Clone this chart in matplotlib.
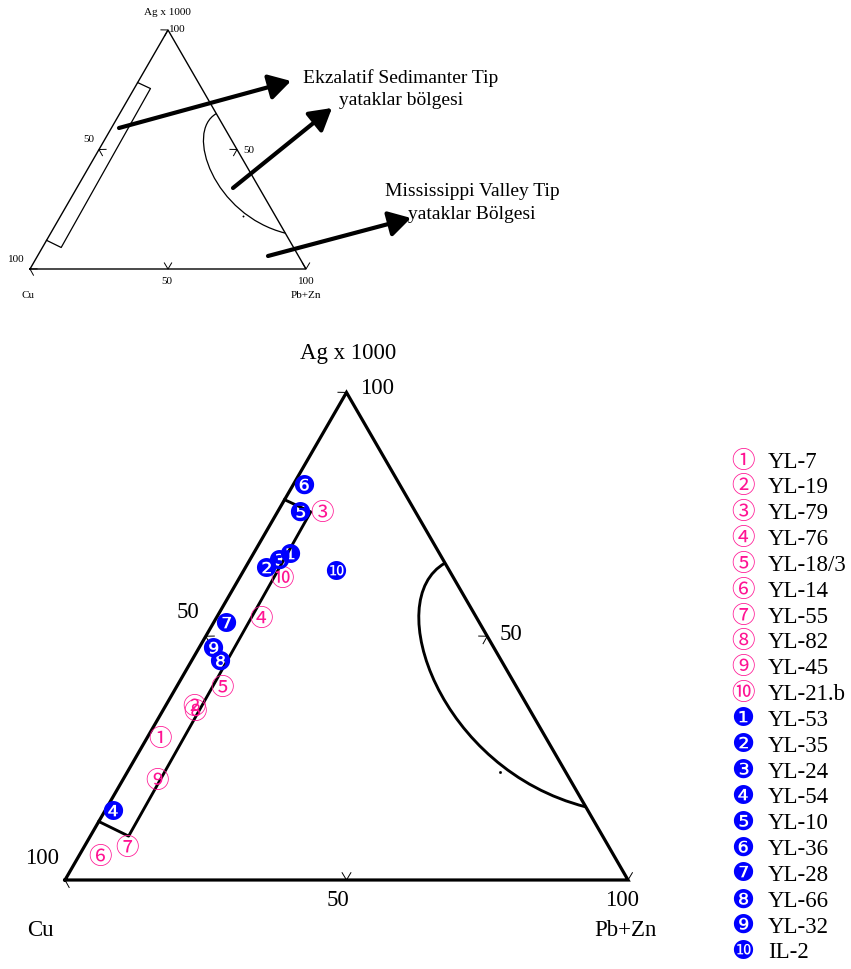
import numpy as np
import matplotlib
matplotlib.use('Agg')
import matplotlib.pyplot as plt
from matplotlib.path import Path
from matplotlib.patches import PathPatch

SQ3 = np.sqrt(3) / 2
SERIF = 'Liberation Serif'
PINK = '#ff1493'
BLUE = '#0000ff'

# sample compositions in % (Cu = 100 - Ag - PbZn)
pink_labels = ['YL-7', 'YL-19', 'YL-79', 'YL-76', 'YL-18/3', 'YL-14', 'YL-55', 'YL-82', 'YL-45', 'YL-21.b']
pink_marks = ['①', '②', '③', '④', '⑤', '⑥', '⑦', '⑧', '⑨', '⑩']
pink_ag = [28.9, 35.3, 75.1, 53.5, 39.3, 4.7, 6.5, 34.3, 20.2, 61.7]
pink_pbzn = [2.4, 5.2, 8.1, 8.1, 8.2, 3.9, 7.7, 6.0, 6.2, 7.7]

blue_labels = ['YL-53', 'YL-35', 'YL-24', 'YL-54', 'YL-10', 'YL-36', 'YL-28', 'YL-66', 'YL-32', 'IL-2']
blue_marks = ['❶', '❷', '❸', '❹', '❺', '❻', '❼', '❽', '❾', '❿']
blue_ag = [66.5, 63.6, 65.3, 13.8, 75.1, 80.7, 52.4, 44.5, 47.2, 62.9]
blue_pbzn = [6.7, 3.9, 5.3, 1.5, 4.1, 2.1, 2.4, 5.2, 2.6, 16.6]

# triangle frame
frame_ag = [0, 0, 100, 0]
frame_pbzn = [0, 100, 0, 0]

# sedimentary exhalative box along the Cu - Ag side
box_ag = [78.0, 75.5, 9.0, 12.0]
box_pbzn = [0, 5.9, 6.8, 0]

# Mississippi Valley field boundary: ends on the Ag - PbZn side, two bezier handles
mvt_ag = [65.0, 57.4, 22.6, 15.0]
mvt_pbzn = [35.0, 27.2, 55.3, 85.0]
dot_ag = [22.1]
dot_pbzn = [66.2]

# tick marks: (Ag, PbZn, edge)
ticks = [(0, 50, 'b'), (0, 100, 'b'), (50, 0, 'l'), (0, 0, 'l'), (50, 50, 'r'), (100, 0, 'r')]


def toXY(ag, pbzn):
    ag = np.asarray(ag, float)
    pbzn = np.asarray(pbzn, float)
    return pbzn + ag / 2, ag * SQ3


def makeTernaryAxes(fig, ox, oy, scale):
    # full-figure axes where the Cu corner sits at pixel (ox, oy), scale px per unit
    W, H = 851, 969
    ax = fig.add_axes([0, 0, 1, 1])
    ax.set_xlim(-ox / scale, (W - ox) / scale)
    ax.set_ylim(-(H - oy) / scale, oy / scale)
    ax.axis('off')
    ax.patch.set_alpha(0)
    return ax


def drawFrame(ax, lw, tick_size):
    fx, fy = toXY(frame_ag, frame_pbzn)
    ax.plot(fx, fy, color='black', lw=lw, solid_joinstyle='miter')
    bx, by = toXY(box_ag, box_pbzn)
    ax.plot(bx, by, color='black', lw=lw * 0.9)
    cx, cy = toXY(mvt_ag, mvt_pbzn)
    codes = [Path.MOVETO, Path.CURVE4, Path.CURVE4, Path.CURVE4]
    ax.add_patch(PathPatch(Path(np.column_stack([cx, cy]), codes),
                           fill=False, color='black', lw=lw * 0.9))
    dx, dy = toXY(dot_ag, dot_pbzn)
    ax.plot(dx, dy, 's', ms=lw * 0.4, color='black')
    edges = {'b': ((1, 0), (0, 1)),
             'l': ((0.5, SQ3), (SQ3, -0.5)),
             'r': ((-0.5, SQ3), (-SQ3, -0.5))}
    for ag, pb, e in ticks:
        (tx, ty), (nx, ny) = edges[e]
        px, py = toXY(ag, pb)
        xs = [px + tick_size * (nx + 0.6 * tx), px, px + tick_size * (nx - 0.6 * tx)]
        ys = [py + tick_size * (ny + 0.6 * ty), py, py + tick_size * (ny - 0.6 * ty)]
        ax.plot(xs, ys, color='black', lw=0.7)


fig = plt.figure(figsize=(8.51, 9.69), dpi=100)

# small reference diagram
ax_small = makeTernaryAxes(fig, 30, 269, 2.76)
drawFrame(ax_small, 1.0, 2.2)

# main diagram with samples
ax_main = makeTernaryAxes(fig, 65, 880, 5.63)
drawFrame(ax_main, 2.3, 1.3)

PINK_FS, BLUE_FS = 17, 18.5

px, py = toXY(pink_ag, pink_pbzn)
for x, y, m in zip(px, py, pink_marks):
    ax_main.text(x, y, m, color=PINK, fontsize=PINK_FS, ha='center', va='center',
                 family=['Noto Sans CJK JP', 'DejaVu Sans'])
bx, by = toXY(blue_ag, blue_pbzn)
for x, y, m in zip(bx, by, blue_marks):
    ax_main.text(x, y, m, color=BLUE, fontsize=BLUE_FS, ha='center', va='center',
                 family=['DejaVu Sans', 'Noto Sans CJK JP'])

# overlay in pixel coordinates for labels, arrows and legend
ax_pix = fig.add_axes([0, 0, 1, 1])
ax_pix.set_xlim(0, 851)
ax_pix.set_ylim(969, 0)
ax_pix.axis('off')
ax_pix.patch.set_alpha(0)

def label(x, y, s, fs, ha='center'):
    ax_pix.text(x, y, s, fontsize=fs, ha=ha, va='center', family=SERIF)

# small diagram labels
label(167, 12, 'Ag x 1000', 8)
label(169, 29, '100', 8, ha='left')
label(89, 139, '50', 8)
label(249, 150, '50', 8)
label(16, 260, '100', 8)
label(167, 281, '50', 8)
label(306, 281, '100', 8)
label(28, 295, 'Cu', 8)
label(306, 295, 'Pb+Zn', 8)

# main diagram labels
label(348, 353, 'Ag x 1000', 16.5)
label(360, 389, '100', 16.5, ha='left')
label(188, 613, '50', 16.5)
label(511, 634, '50', 16.5)
label(42, 858, '100', 16.5)
label(338, 900, '50', 16.5)
label(622, 900, '100', 16.5)
label(40, 930, 'Cu', 16.5)
label(625, 930, 'Pb+Zn', 16.5)

# arrows and field names
arrow_style = '-|>,head_length=0.6,head_width=0.35'
for tail, head in [((119, 128), (291, 81)), ((233, 188), (332, 108)), ((268, 256), (411, 218))]:
    ax_pix.annotate('', xy=head, xytext=tail,
                    arrowprops=dict(arrowstyle=arrow_style, lw=3, color='black',
                                    mutation_scale=22, shrinkA=0, shrinkB=0))
ax_pix.text(401, 89, 'Ekzalatif Sedimanter Tip\nyataklar bölgesi', fontsize=14,
            ha='center', va='center', family=SERIF, linespacing=1.45)
ax_pix.text(472, 203, 'Mississippi Valley Tip\nyataklar Bölgesi', fontsize=14,
            ha='center', va='center', family=SERIF, linespacing=1.45)

# legend
row = 25.84
for i, (m, lab) in enumerate(zip(pink_marks + blue_marks, pink_labels + blue_labels)):
    y = 461 + i * row
    if i < 10:
        ax_pix.text(743, y, m, color=PINK, fontsize=PINK_FS, ha='center', va='center',
                    family=['Noto Sans CJK JP', 'DejaVu Sans'])
    else:
        ax_pix.text(743, y, m, color=BLUE, fontsize=BLUE_FS, ha='center', va='center',
                    family=['DejaVu Sans', 'Noto Sans CJK JP'])
    ax_pix.text(768, y + 1, lab, fontsize=16.5, ha='left', va='center', family=SERIF)

fig.savefig('out.png', dpi=100)
